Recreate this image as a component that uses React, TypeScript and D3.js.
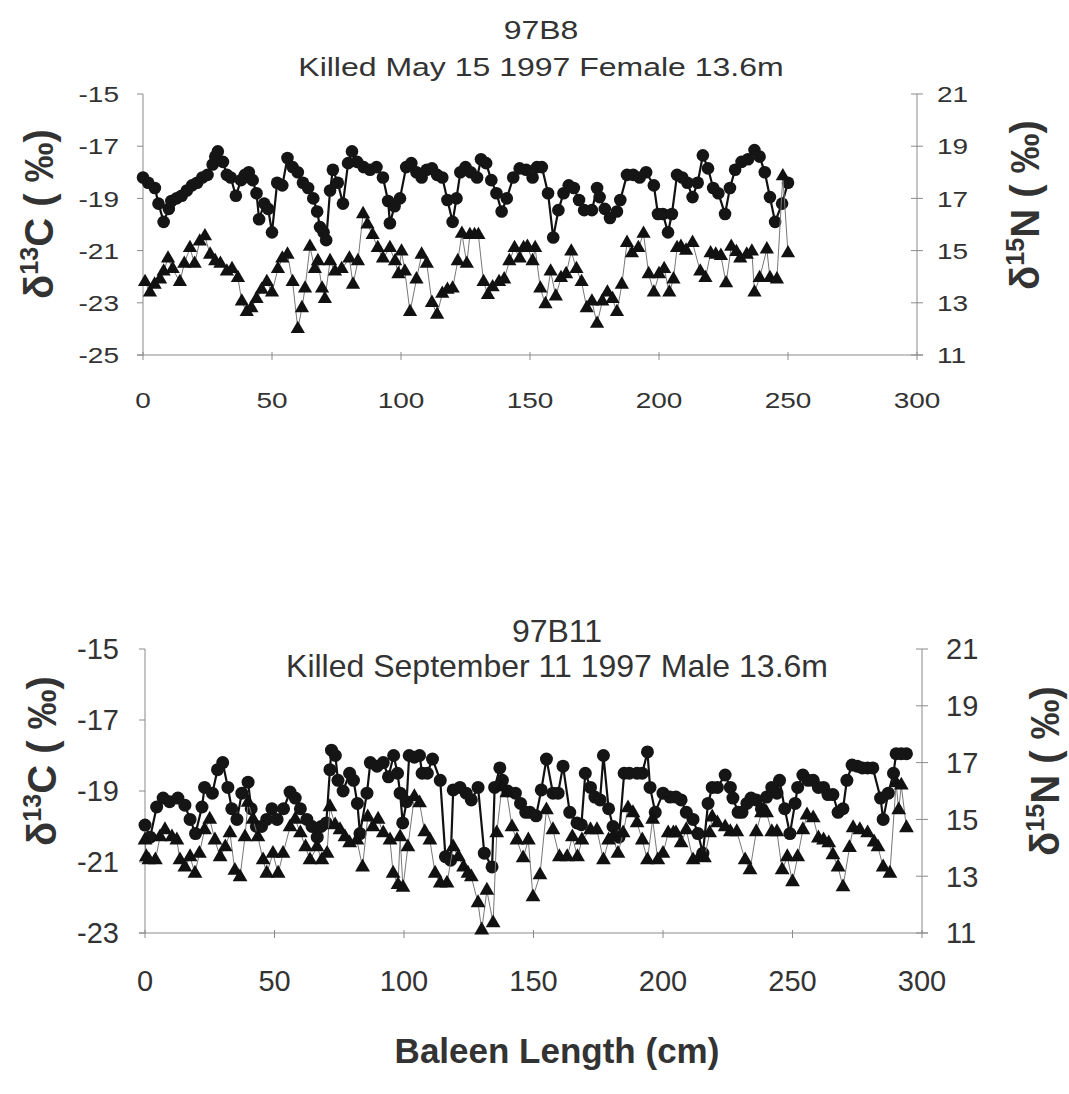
import React from 'react';
import * as d3 from 'd3';

// ---------- DATA ----------
const xTicks = [0, 50, 100, 150, 200, 250, 300];
const topLeftTicks = [-25, -23, -21, -19, -17, -15];
const topRightTicks = [11, 13, 15, 17, 19, 21];
const bottomLeftTicks = [-23, -21, -19, -17, -15];
const bottomRightTicks = [11, 13, 15, 17, 19, 21];

const topTitle = '97B8';
const topSubtitle = 'Killed May 15 1997 Female 13.6m';
const bottomTitle = '97B11';
const bottomSubtitle = 'Killed September 11 1997 Male 13.6m';
const xAxisTitle = 'Baleen Length (cm)';

// [baleen length cm, δ13C ‰]
const top13C: [number, number][] = [
  [0, -18.2], [2, -18.4], [4.6, -18.6], [6, -19.2], [8, -19.9], [10, -19.4], [11, -19.1], [13, -19.0], [15, -18.9],
  [17, -18.7], [19, -18.5], [21, -18.4], [23, -18.2], [25, -18.1], [27, -17.7], [28, -17.4], [29, -17.2], [31, -17.6],
  [32.5, -18.1], [34, -18.2], [36, -18.9], [38, -18.3], [39.5, -18.1], [41, -18.0], [42.5, -18.3], [44, -18.8],
  [45, -19.8], [47, -19.2], [48.5, -19.4], [50, -20.3], [52, -18.4], [54, -18.5], [56, -17.45], [58, -17.8], [60, -18.0],
  [62, -18.4], [64, -18.6], [66, -19.0], [67.5, -19.5], [68.6, -20.1], [70, -20.3], [71, -20.6], [72.5, -18.7],
  [73.6, -17.9], [75.5, -18.4], [77.5, -19.2], [79.5, -17.65], [81, -17.2], [83, -17.6], [85.5, -17.8], [88, -17.9],
  [90.5, -17.8], [93, -18.2], [95, -19.1], [95.7, -19.95], [97.5, -19.3], [99.6, -19.0], [102, -17.8], [104, -17.65],
  [106, -18.0], [108, -18.2], [110, -17.9], [112, -17.85], [114, -18.1], [116, -18.2], [118, -19.06], [120, -19.9],
  [121.5, -19.0], [123, -18.0], [125, -17.8], [127, -18.0], [129.5, -18.2], [131, -17.5], [133, -17.65], [135, -18.3],
  [137, -18.8], [139, -19.5], [141, -19.0], [143.5, -18.2], [146, -17.85], [148.5, -17.9], [151, -18.2], [152.7, -17.8],
  [154.6, -17.8], [157, -18.8], [159, -20.5], [161, -19.45], [163, -18.8], [165, -18.5], [167, -18.6], [169, -19.06],
  [171, -19.45], [174, -19.45], [176, -18.6], [177, -18.95], [179, -19.4], [181, -19.75], [183.7, -19.5], [185, -19.06],
  [187.6, -18.1], [190, -18.1], [192.5, -18.2], [195, -18.0], [198, -18.5], [199.6, -19.6], [201.5, -19.6],
  [203.5, -20.3], [205, -19.6], [207, -18.1], [209, -18.2], [211, -18.4], [213, -18.95], [215, -18.4], [217, -17.35],
  [219, -17.85], [221, -18.6], [223, -18.8], [225.6, -19.6], [227.5, -18.6], [229.5, -17.9], [232, -17.6],
  [234.5, -17.5], [237, -17.15], [239, -17.4], [241, -18.0], [243, -18.95], [245, -19.9], [247.7, -19.2], [250, -18.4],
];

// [baleen length cm, δ15N ‰]
const top15N: [number, number][] = [
  [0.8, 13.8], [2.7, 13.4], [4.5, 13.7], [6.6, 13.9], [8, 14.2], [9.7, 14.7], [11.5, 14.3], [14.3, 13.8], [16, 14.5],
  [18.2, 15.1], [20, 14.5], [22, 15.35], [24, 15.55], [26, 14.85], [28, 14.6], [30, 14.5], [32.5, 14.2], [34.5, 14.3],
  [36.8, 13.95], [38.3, 13.05], [40.2, 12.65], [42, 12.8], [44, 13.15], [46, 13.5], [48, 13.8], [50, 13.4], [52.3, 14.3],
  [54, 14.7], [56, 14.85], [58, 13.8], [60, 12.0], [61.6, 12.8], [62.8, 13.55], [64.7, 15.15], [66.6, 14.3],
  [67.8, 14.6], [69.4, 13.55], [70.5, 13.15], [72.5, 14.6], [74.4, 14.2], [77, 14.3], [80, 14.7], [81.4, 13.7],
  [83.3, 14.6], [85.3, 16.4], [87, 16.0], [89, 15.6], [91, 15.1], [93, 14.7], [95.7, 15.1], [97.7, 14.6], [99, 14.1],
  [100.2, 14.97], [101.5, 14.2], [103.5, 12.65], [106, 13.9], [108, 14.85], [110, 14.5], [112, 13.0], [114, 12.55],
  [116, 13.35], [118, 13.5], [120, 13.55], [122, 14.6], [123.6, 15.65], [125.5, 14.5], [126.7, 15.6], [128.5, 15.6],
  [130, 15.6], [132, 13.8], [133.7, 13.3], [135.5, 13.6], [138, 13.8], [140, 13.9], [142, 14.6], [144, 15.1],
  [146, 14.7], [147.5, 15.1], [149, 15.15], [151, 14.6], [152, 15.1], [154, 13.55], [156, 12.95], [158, 14.2],
  [160, 13.25], [162, 13.95], [164, 14.1], [166, 14.97], [168, 14.3], [170, 13.8], [172, 12.8], [174, 13.05],
  [176, 12.2], [178, 13.05], [180, 13.4], [182, 13.15], [183.7, 12.65], [185.6, 13.7], [187.6, 15.3], [189.5, 14.9],
  [192, 15.1], [194, 15.65], [196, 14.1], [198, 13.4], [200, 14.1], [202, 14.3], [204, 13.4], [205.6, 13.9],
  [207, 15.1], [208.5, 15.15], [210.5, 15.0], [213, 15.3], [216, 14.2], [218, 13.95], [220, 14.9], [222, 14.85],
  [224, 14.8], [226, 13.75], [228, 15.15], [230, 14.95], [231.5, 14.7], [234, 14.85], [236, 14.97], [237, 13.4],
  [239, 13.95], [241.8, 15.05], [243, 13.95], [245.7, 13.9], [248, 17.85], [250, 14.9],
];

const bottom13C: [number, number][] = [
  [0, -19.96], [2, -20.3], [4.5, -19.45], [7, -19.2], [9.5, -19.3], [12.7, -19.2], [15.4, -19.4], [17.4, -19.8],
  [19.5, -20.2], [22, -19.45], [23, -18.9], [26, -19.06], [28, -18.4], [30, -18.2], [32, -18.9], [33.5, -19.5],
  [35.5, -19.8], [37.4, -19.06], [39.8, -18.75], [41, -19.5], [43, -20.0], [45, -20.0], [47, -19.8], [49, -19.5],
  [51, -19.8], [53.5, -19.5], [56, -19.03], [58, -19.2], [60, -19.5], [62.5, -19.8], [64.5, -20.0], [66.5, -20.3],
  [68, -20.0], [70, -19.9], [71.4, -18.4], [72, -17.85], [73.5, -18.0], [74.5, -18.7], [76.5, -19.0], [79, -18.5],
  [80.5, -18.7], [82, -19.35], [83, -20.2], [85.7, -19.06], [87, -18.2], [89.6, -18.3], [92, -18.2], [94, -18.6],
  [96, -18.0], [97.5, -18.5], [98.5, -19.06], [99.5, -19.9], [101, -19.3], [102, -18.0], [104, -18.05], [106, -18.0],
  [107, -18.5], [109, -18.5], [111, -18.1], [114, -18.7], [116, -20.85], [118, -20.95], [119, -18.97], [121.6, -18.9],
  [124, -19.06], [126, -19.25], [128.6, -18.9], [131, -20.75], [134, -21.14], [135, -18.9], [137, -18.35], [138, -18.7],
  [140, -19.0], [143, -19.06], [145, -19.35], [147, -19.6], [148.6, -19.6], [151, -19.7], [153, -18.97], [155, -18.1],
  [157.5, -19.06], [159.5, -19.06], [161.4, -18.3], [164, -19.6], [166.8, -19.9], [168.5, -19.95], [170, -18.5],
  [172, -18.9], [173.7, -19.17], [175.7, -19.25], [177, -18.0], [179, -19.5], [180.7, -20.0], [183, -20.3], [185, -18.5],
  [187, -18.5], [190, -18.5], [192, -18.5], [194, -17.9], [195, -18.9], [197, -19.6], [200, -19.06], [202.7, -19.17],
  [205, -19.17], [207, -19.25], [209, -19.6], [211.6, -19.8], [213.5, -20.2], [215.4, -20.75], [217.4, -19.35],
  [219, -18.9], [221, -18.9], [224, -18.55], [226, -18.9], [227, -19.2], [229, -19.6], [230.5, -19.6], [232.4, -19.35],
  [234, -19.2], [236, -19.25], [238, -19.5], [240, -19.17], [242, -18.9], [244, -19.06], [245, -18.7], [247, -19.5],
  [249, -20.2], [251, -19.35], [252, -18.9], [254, -18.55], [256, -18.7], [258, -18.7], [260, -18.9], [262, -18.9],
  [263.7, -19.1], [265.6, -19.1], [267.6, -19.6], [269.5, -19.5], [271, -18.7], [273, -18.27], [275, -18.3],
  [277, -18.35], [279, -18.35], [281, -18.35], [284, -19.2], [285, -19.8], [287, -19.06], [289, -18.5], [290, -17.95],
  [292, -17.95], [294, -17.95],
];

const bottom15N: [number, number][] = [
  [0, 14.27], [0.5, 13.68], [1.5, 13.57], [4, 13.57], [5.8, 14.38], [7.7, 14.63], [10.4, 14.38], [12.3, 14.27],
  [13.5, 13.57], [15.4, 13.32], [17.4, 13.68], [19.3, 13.1], [21, 13.8], [23, 14.63], [25, 15.0], [27, 14.27],
  [29, 13.68], [31, 14.03], [32.8, 14.52], [34.7, 13.2], [36.7, 12.97], [38.6, 14.38], [39.8, 15.6], [41.7, 15.0],
  [43.6, 14.38], [45.6, 13.57], [47, 13.1], [49.4, 13.8], [51.4, 13.1], [53.3, 13.8], [56, 14.73], [58, 15.0],
  [60, 14.52], [62, 14.03], [63.7, 13.57], [66.4, 14.03], [68.3, 13.57], [70.3, 13.8], [71.4, 15.44], [73.4, 14.8],
  [75.3, 14.63], [77.2, 14.38], [79, 14.17], [81.8, 14.27], [84, 13.32], [86, 15.08], [88, 14.73], [90, 15.0],
  [92, 14.52], [94.6, 14.27], [95.8, 13.1], [97.7, 12.7], [98.5, 14.38], [99.6, 12.6], [101.5, 14.03], [104, 15.8],
  [106, 15.58], [108, 14.56], [110, 14.27], [112, 13.1], [114, 12.75], [116.6, 12.75], [119, 14.03], [121, 13.68],
  [123, 13.32], [124.7, 13.1], [126, 12.97], [128.6, 12.06], [130, 11.1], [132, 12.5], [134.4, 11.35], [135.8, 14.52],
  [137.8, 16.14], [139.7, 15.93], [141.7, 14.73], [143.6, 14.27], [146, 13.64], [148, 14.27], [149.8, 12.27],
  [152.5, 13.04], [155, 15.33], [157.5, 14.63], [160, 13.68], [163, 13.68], [165, 14.38], [167, 13.68], [168.7, 14.27],
  [172, 14.63], [174.5, 14.63], [177, 13.57], [179, 14.27], [180.7, 14.38], [182.6, 13.8], [184.6, 14.52],
  [186.5, 15.4], [188.4, 15.23], [190, 14.87], [192, 14.27], [194, 13.57], [196, 15.0], [198, 13.57], [200, 13.8],
  [202, 14.52], [204, 14.52], [205, 14.52], [207, 14.17], [209, 14.63], [211.6, 13.57], [214, 13.68], [216, 13.64],
  [218, 14.52], [219, 15.08], [221, 14.87], [224, 14.73], [226, 14.56], [228.5, 14.56], [231.7, 13.57], [233.6, 13.22],
  [236, 14.56], [238, 15.23], [240, 15.23], [242, 14.56], [244, 14.56], [246, 13.22], [248, 13.68], [250, 12.8],
  [252, 13.68], [254, 14.63], [255.6, 15.15], [258, 15.05], [260, 14.34], [262, 14.27], [264, 14.17], [265.6, 13.75],
  [267.6, 13.32], [269.5, 12.62], [272, 14.0], [273.4, 14.7], [276, 14.63], [279, 14.52], [281.5, 14.2], [283, 14.03],
  [285, 13.32], [287.6, 13.1], [290, 16.28], [291, 15.33], [292, 16.2], [294, 14.7],
];

// ---------- LAYOUT ----------
type PanelCfg = {
  x0: number; x1: number; yTop: number; yBot: number;
  leftDomain: [number, number]; rightDomain: [number, number];
  leftTicks: number[]; rightTicks: number[];
  c13: [number, number][]; n15: [number, number][];
  title: string; subtitle: string; titleX: number; titleY: number; subY: number;
  sy: number; tickFs: number; titleFs: number;
  xLabelY: number; leftLabelX: number; rightLabelX: number;
  leftTitle: [number, number]; rightTitle: [number, number];
  r: number; triArea: number;
};

const FONT = 'Liberation Sans, Arial, Helvetica, sans-serif';
const TEXT = '#333';
const AXIS = '#8a8a8a';

const panels: PanelCfg[] = [
  {
    x0: 143, x1: 917, yTop: 94, yBot: 355,
    leftDomain: [-25, -15], rightDomain: [11, 21],
    leftTicks: topLeftTicks, rightTicks: topRightTicks,
    c13: top13C, n15: top15N,
    title: topTitle, subtitle: topSubtitle, titleX: 541, titleY: 30, subY: 67,
    sy: 0.82, tickFs: 28, titleFs: 32,
    xLabelY: 400, leftLabelX: 119, rightLabelX: 937,
    leftTitle: [39, 214], rightTitle: [1025, 205],
    r: 6.3, triArea: 88,
  },
  {
    x0: 145, x1: 922, yTop: 649, yBot: 933,
    leftDomain: [-23, -15], rightDomain: [11, 21],
    leftTicks: bottomLeftTicks, rightTicks: bottomRightTicks,
    c13: bottom13C, n15: bottom15N,
    title: bottomTitle, subtitle: bottomSubtitle, titleX: 557, titleY: 630, subY: 665,
    sy: 1, tickFs: 29, titleFs: 32,
    xLabelY: 981, leftLabelX: 119, rightLabelX: 946,
    leftTitle: [42, 761], rightTitle: [1045, 771],
    r: 6.5, triArea: 95,
  },
];

function Txt({ x, y, sy = 1, fs, anchor = 'middle', weight = 400, children }: any) {
  return (
    <g transform={`translate(${x},${y}) scale(1,${sy})`}>
      <text x={0} y={0} dy="0.36em" fontSize={fs} fontFamily={FONT} fontWeight={weight}
        textAnchor={anchor} fill={TEXT}>{children}</text>
    </g>
  );
}

function AxisTitle({ x, y, sup, letter }: { x: number; y: number; sup: string; letter: string }) {
  return (
    <g transform={`translate(${x},${y}) rotate(-90)`}>
      <text x={0} y={0} dy="0.36em" fontSize={40} fontFamily={FONT} fontWeight={700} textAnchor="middle" fill={TEXT}>
        δ<tspan fontSize={25} dy={-15}>{sup}</tspan><tspan dy={15}>{letter} ( ‰)</tspan>
      </text>
    </g>
  );
}

function Panel({ p }: { p: PanelCfg }) {
  const x = d3.scaleLinear().domain([0, 300]).range([p.x0, p.x1]);
  const yL = d3.scaleLinear().domain(p.leftDomain).range([p.yBot, p.yTop]);
  const yR = d3.scaleLinear().domain(p.rightDomain).range([p.yBot, p.yTop]);
  const lineC = d3.line<[number, number]>().x(d => x(d[0])).y(d => yL(d[1]));
  const lineN = d3.line<[number, number]>().x(d => x(d[0])).y(d => yR(d[1]));
  const tri = d3.symbol().type(d3.symbolTriangle).size(p.triArea)() as string;

  return (
    <g>
      <Txt x={p.titleX} y={p.titleY} sy={p.sy} fs={p.titleFs}>{p.title}</Txt>
      <Txt x={p.titleX} y={p.subY} sy={p.sy} fs={p.titleFs}>{p.subtitle}</Txt>

      <line x1={p.x0} x2={p.x0} y1={p.yTop} y2={p.yBot} stroke={AXIS} strokeWidth={1} />
      <line x1={p.x1} x2={p.x1} y1={p.yTop} y2={p.yBot} stroke={AXIS} strokeWidth={1} />
      <line x1={p.x0 - 6} x2={p.x1 + 6} y1={p.yBot} y2={p.yBot} stroke={AXIS} strokeWidth={1} />
      {p.leftTicks.map(t => (
        <g key={'l' + t}>
          <line x1={p.x0 - 6} x2={p.x0} y1={yL(t)} y2={yL(t)} stroke={AXIS} />
          <Txt x={p.leftLabelX} y={yL(t)} sy={p.sy} fs={p.tickFs} anchor="end">{String(t)}</Txt>
        </g>
      ))}
      {p.rightTicks.map(t => (
        <g key={'r' + t}>
          <line x1={p.x1 - 6} x2={p.x1 + 6} y1={yR(t)} y2={yR(t)} stroke={AXIS} />
          <Txt x={p.rightLabelX} y={yR(t)} sy={p.sy} fs={p.tickFs} anchor="start">{String(t)}</Txt>
        </g>
      ))}
      {xTicks.map(t => (
        <g key={'x' + t}>
          <line x1={x(t)} x2={x(t)} y1={p.yBot - 3} y2={p.yBot + 5} stroke={AXIS} />
          <Txt x={x(t)} y={p.xLabelY} sy={p.sy} fs={p.tickFs}>{String(t)}</Txt>
        </g>
      ))}

      <path d={lineC(p.c13) as string} fill="none" stroke="#111" strokeWidth={2.2} />
      {p.c13.map((d, i) => (
        <circle key={'c' + i} cx={x(d[0])} cy={yL(d[1])} r={p.r} fill="#151515" />
      ))}

      <path d={lineN(p.n15) as string} fill="none" stroke="#777" strokeWidth={1} />
      {p.n15.map((d, i) => (
        <path key={'n' + i} d={tri} transform={`translate(${x(d[0])},${yR(d[1])})`} fill="#111" />
      ))}

      <AxisTitle x={p.leftTitle[0]} y={p.leftTitle[1]} sup="13" letter="C" />
      <AxisTitle x={p.rightTitle[0]} y={p.rightTitle[1]} sup="15" letter="N" />
    </g>
  );
}

export default function App() {
  return (
    <svg width={1069} height={1094} viewBox="0 0 1069 1094"
      style={{ position: 'absolute', left: 0, top: 0, background: '#fff' }}>
      <rect x={0} y={0} width={1069} height={1094} fill="#fff" />
      {panels.map((p, i) => <Panel key={i} p={p} />)}
      <text x={557} y={1050} dy="0.36em" fontSize={35} fontFamily={FONT} fontWeight={700}
        textAnchor="middle" fill={TEXT}>{xAxisTitle}</text>
    </svg>
  );
}
